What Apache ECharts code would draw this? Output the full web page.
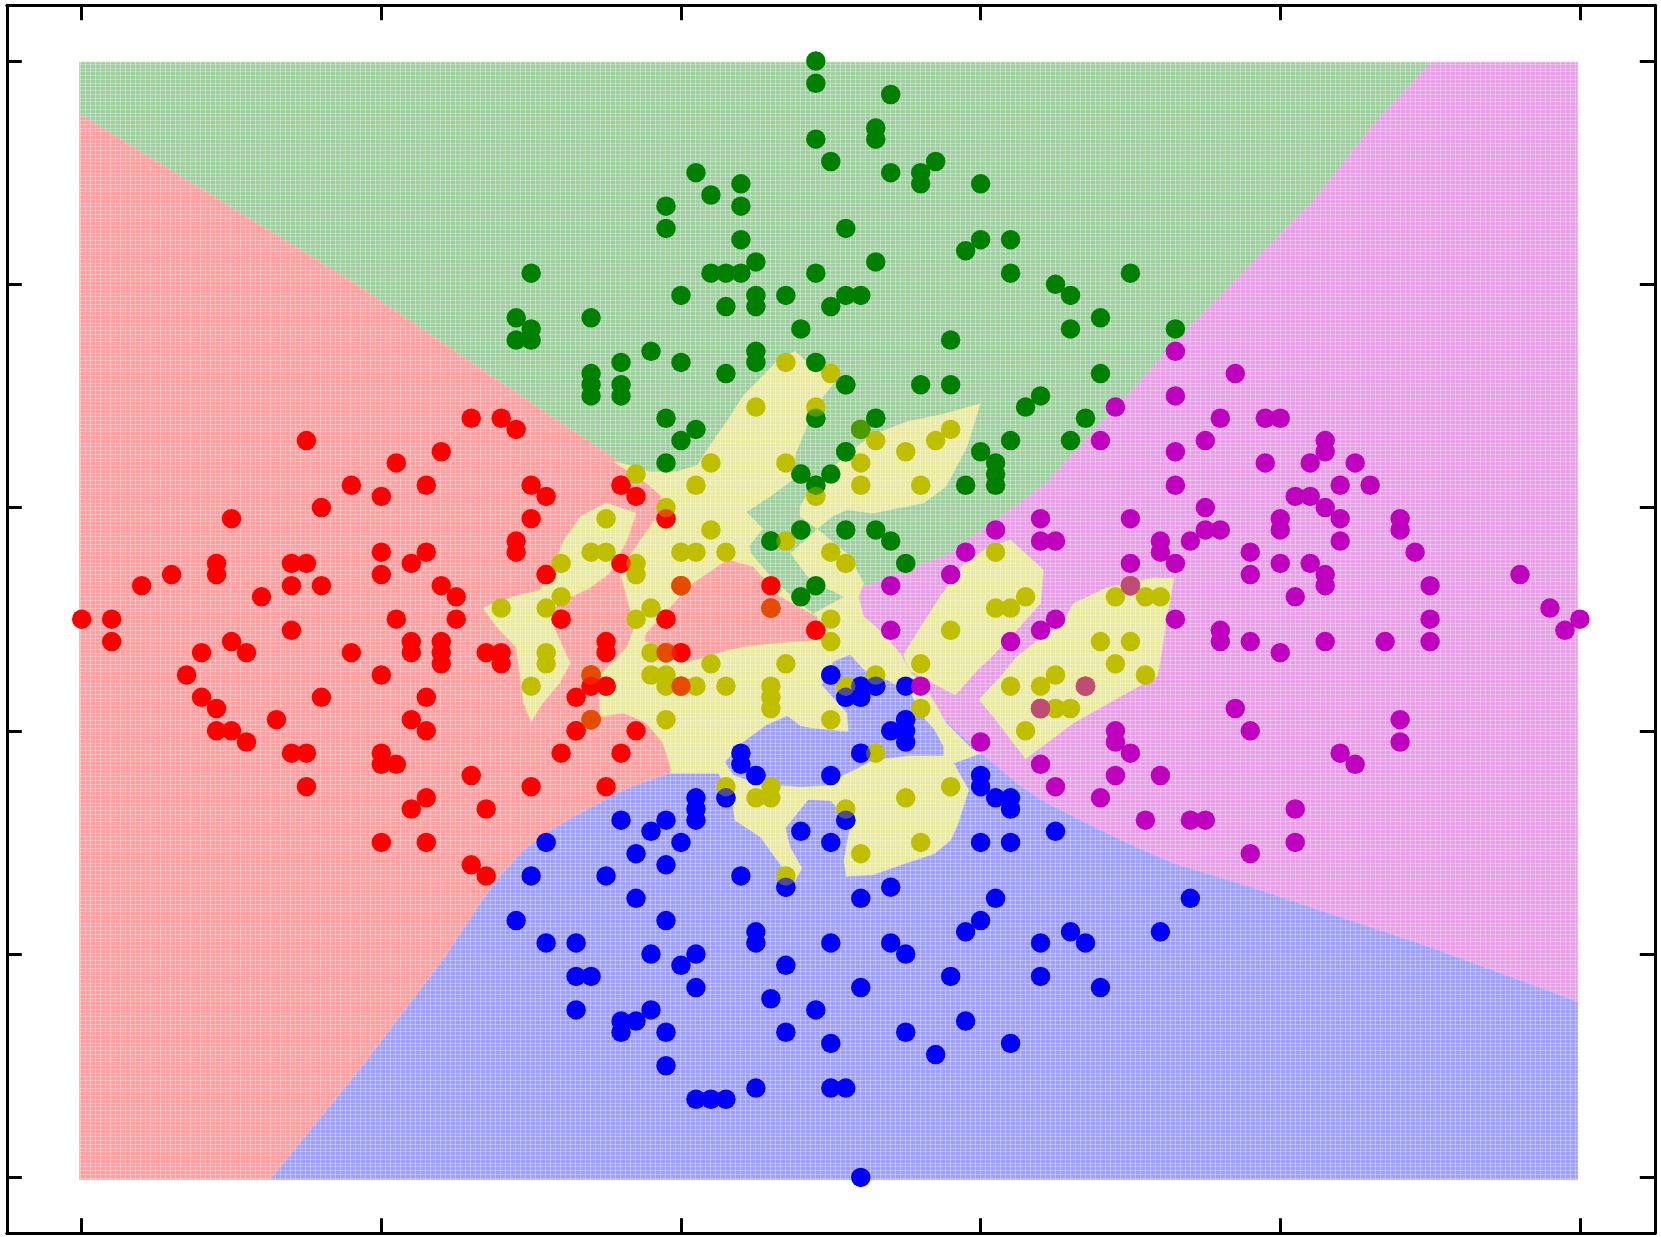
<!DOCTYPE html>
<html>
<head>
<meta charset="utf-8">
<style>html,body{margin:0;padding:0;background:#fff}#c{width:1661px;height:1237px;filter:blur(0.7px)}</style>
<script src="https://cdn.jsdelivr.net/npm/echarts@6/dist/echarts.min.js"></script>
</head>
<body>
<div id="c"></div>
<script>
const tickValues = [-50,-30,-10,10,30,50];

const redPoints = [[-50,0],[-48,0],[-48,-2],[-46,3],[-44,4],[-41,5],[-41,4],[-40,9],[-38,2],[-36,5],[-35,5],[-36,3],[-34,3],[-34,10],[-35,16],[-32,12],[-30,11],[-29,14],[-27,12],[-26,15],[-24,18],[-22,18],[-21,17],[-20,12],[-19,11],[-20,9],[-21,7],[-21,6],[-30,6],[-30,4],[-28,5],[-27,6],[-26,3],[-25,2],[-25,0],[-29,0],[-36,-1],[-40,-2],[-39,-3],[-42,-3],[-43,-5],[-42,-7],[-41,-8],[-41,-10],[-40,-10],[-39,-11],[-37,-9],[-34,-7],[-32,-3],[-30,-5],[-28,-2],[-28,-3],[-26,-3],[-26,-2],[-26,-4],[-23,-3],[-22,-3],[-22,-4],[-27,-7],[-28,-9],[-27,-10],[-36,-12],[-35,-12],[-35,-15],[-30,-12],[-30,-13],[-29,-13],[-24,-14],[-27,-16],[-28,-17],[-23,-17],[-30,-20],[-27,-20],[-24,-22],[-23,-23],[-20,-15],[-15,-15],[-18,-12],[-14,-12],[-17,-10],[-13,-10],[-17,-7],[-16,-6],[-15,-6],[-15,-2],[-15,-3],[-18,0],[-19,4],[-11,0],[-10,3],[-14,12],[-13,11],[-11,9],[-14,5],[-4,3],[-4,1],[-1,-1],[-10,-6],[-10,-3],[-16,-5],[-16,-9],[-11,-3]];

const greenPoints = [[-1,50],[-1,48],[4,47],[3,44],[3,43],[-1,43],[0,41],[-9,40],[-8,38],[-6,39],[-6,37],[-11,37],[-11,35],[4,40],[6,40],[6,39],[7,41],[10,39],[1,35],[-6,34],[9,33],[10,34],[12,34],[3,32],[-1,31],[-5,32],[-8,31],[-7,31],[-6,31],[-20,31],[12,31],[20,31],[15,30],[16,29],[-10,29],[-5,29],[-5,28],[-7,28],[-3,29],[0,28],[1,29],[2,29],[-21,27],[-16,27],[-20,26],[-20,25],[-21,25],[-2,26],[18,27],[16,26],[23,26],[8,25],[-12,24],[-5,24],[-5,23],[-10,23],[-14,23],[-16,22],[-16,21],[-16,20],[-14,21],[-14,20],[-7,22],[18,22],[6,21],[8,21],[14,20],[13,19],[-11,18],[-1,18],[3,18],[17,18],[16,16],[12,16],[-10,16],[-9,17],[-11,14],[1,15],[10,15],[11,14],[11,13],[11,12],[9,12],[-2,13],[0,13],[-1,12],[-2,8],[1,8],[3,8],[4,7],[5,5],[-4,7],[-1,3],[-2,2],[-1,23],[1,21],[2,17]];

const bluePoints = [[-19,-20],[-20,-23],[-21,-27],[-19,-29],[-17,-29],[-17,-32],[-16,-32],[-17,-35],[-15,-23],[-13,-25],[-14,-18],[-12,-19],[-13,-21],[-11,-18],[-10,-20],[-11,-22],[-9,-16],[-9,-17],[-9,-18],[-6,-23],[-11,-27],[-12,-30],[-10,-31],[-9,-30],[-9,-33],[-12,-35],[-13,-36],[-14,-36],[-14,-37],[-11,-37],[-11,-40],[-9,-43],[-8,-43],[-7,-43],[-5,-42],[0,-42],[1,-42],[2,-50],[-5,-28],[-5,-29],[-3,-31],[-4,-34],[-1,-35],[-3,-37],[0,-38],[2,-33],[5,-37],[7,-39],[9,-36],[12,-38],[8,-32],[5,-30],[4,-29],[0,-29],[9,-28],[10,-27],[11,-25],[4,-24],[2,-25],[-3,-24],[14,-29],[14,-32],[16,-28],[17,-29],[18,-33],[22,-28],[24,-25],[12,-20],[10,-20],[15,-19],[12,-16],[12,-17],[11,-16],[10,-14],[10,-15],[1,-18],[0,-20],[-2,-19],[0,-14],[-7,-16],[-5,-14],[-6,-12],[-6,-13],[2,-12],[4,-10],[5,-9],[5,-10],[5,-11],[5,-6],[0,-5],[1,-7],[2,-6],[3,-6],[2,-7]];

const magentaPoints = [[23,24],[27,22],[23,20],[19,19],[26,18],[18,16],[25,16],[23,15],[23,12],[29,18],[30,18],[33,16],[33,15],[32,14],[29,14],[35,14],[34,12],[36,12],[31,11],[32,11],[33,10],[30,9],[34,9],[38,9],[30,8],[38,8],[34,7],[39,6],[28,6],[30,5],[32,5],[28,4],[33,4],[33,3],[40,3],[31,2],[46,4],[48,1],[49,-1],[50,0],[40,0],[40,-2],[26,-1],[26,-2],[28,-2],[33,-2],[37,-2],[30,-3],[27,-8],[28,-10],[38,-9],[38,-11],[34,-12],[35,-13],[31,-17],[31,-20],[28,-21],[24,-18],[25,-18],[21,-18],[22,-14],[20,-12],[19,-10],[19,-11],[19,-14],[18,-16],[15,-15],[14,-13],[10,-11],[25,10],[20,9],[20,5],[20,3],[22,7],[22,6],[23,5],[24,7],[25,8],[26,8],[11,8],[14,9],[14,7],[15,7],[9,6],[8,4],[4,3],[4,-1],[14,-1],[15,0],[12,-2],[6,-6],[23,0],[17,-6],[14,-8]];

const yellowPoints = [[-3,23],[0,22],[-5,19],[-1,19],[2,17],[3,16],[2,14],[2,12],[-8,14],[-3,14],[-13,13],[-9,12],[-1,11],[-11,10],[-15,9],[-8,8],[-16,6],[-15,6],[-10,6],[-9,6],[-7,6],[-3,7],[0,6],[1,5],[-18,5],[-13,5],[-13,4],[-18,2],[-19,1],[-22,1],[-12,1],[-13,0],[-10,3],[-4,1],[0,0],[0,-2],[-19,-3],[-19,-4],[-20,-6],[-16,-5],[-16,-9],[-12,-3],[-11,-3],[-8,-4],[-3,-4],[-12,-5],[-11,-5],[-11,-6],[-10,-6],[-9,-6],[-7,-6],[-4,-6],[-4,-7],[-4,-8],[-11,-9],[0,-9],[1,-6],[3,-5],[3,-12],[-7,-15],[-4,-15],[-5,-16],[-4,-16],[1,-17],[2,-21],[-3,-23],[5,-16],[5,15],[7,16],[8,17],[6,12],[11,6],[8,-1],[11,1],[12,1],[13,2],[19,2],[21,2],[22,2],[18,-2],[20,-2],[20,3],[6,-4],[6,-8],[8,-15],[6,-20],[19,-4],[21,-5],[15,-5],[14,-6],[12,-6],[15,-8],[16,-8],[13,-10],[17,-6],[14,-8]];

const plotArea = [[-50.15,49.9],[49.85,49.9],[49.85,-50.2],[-50.15,-50.2]];
const centre = [1,-1];
const edgeGreenRed = [[-50.15,45.3],[-41.3,38],[-32.1,30.4],[-25.8,24.7],[-20.1,19.5],[-14.5,14.5]];
const edgeRedBlue = [[-10.7,-13.8],[-13.8,-15.3],[-16.3,-17.1],[-18.7,-18.9],[-20.5,-20.7],[-22.3,-23.4],[-23.4,-25.5],[-25.8,-30.4],[-31.4,-40.3],[-37.4,-50.2]];
const edgeGreenMagenta = [[2,2.8],[5.1,4.4],[8,5.9],[10.4,8.3],[12.2,10],[14.4,12.2],[16.6,15.5],[19.1,19],[22.9,24.7],[28.7,32.7],[32.2,37.5],[36.4,44.6],[40.1,49.9]];
const edgeBlueMagenta = [[10,-12],[12.4,-14.7],[14,-16.2],[16.6,-18],[19.8,-20.1],[22.9,-21.9],[28,-24],[40,-29.4],[49.85,-34.3]];

const baseRed = [...edgeGreenRed, centre, ...edgeRedBlue, [-50.15,-50.2]];
const baseGreen = [[-50.15,49.9],[40.1,49.9],...edgeGreenMagenta.slice().reverse(),centre,...edgeGreenRed.slice().reverse()];
const baseMagenta = [centre,...edgeGreenMagenta,[49.85,49.9],...edgeBlueMagenta.slice().reverse()];
const baseBlue = [centre,...edgeBlueMagenta,[49.85,-50.2],[-37.4,-50.2],...edgeRedBlue.slice().reverse()];

const yellowCentre = [[-14.5,14.1],[-13.4,13.8],[-12.1,13.2],[-10.3,13.2],[-8.9,13.8],[-8.1,15.5],[-6.9,17.8],[-5.8,20.1],[-4.9,21.3],[-3.6,23.1],[-2.4,24],[-1.5,22.9],[0.2,21.4],[1.1,5.9],[2.2,3.2],[1.85,2],[2.2,0.2],[2.6,-0.2],[3.5,-1.3],[4.7,-3.2],[5.2,-4.55],[6.4,-6.3],[7.7,-9.3],[9.4,-11.6],[10,-12],[8.2,-12.9],[9.2,-15.3],[8.5,-18.3],[8,-19.8],[6.9,-21],[4.9,-21.9],[2.8,-22.9],[1.3,-23],[-2.4,-23.5],[-3.4,-21.9],[-4.7,-19.5],[-6.4,-18],[-6.6,-15.9],[-7.5,-13.8],[-10.7,-13.8],[-10.7,-13.2],[-11.2,-11.1],[-12.3,-9.3],[-13.8,-8.4],[-15.4,-8.7],[-15.5,-5.1],[-13.6,-2.5],[-13.1,-0.7],[-13.5,1.4],[-14.1,4.4],[-13,6.5],[-11.6,9.2],[-11.3,11],[-12.3,12.2]];
const yellowLeftLobe = [[-23.2,1],[-21.2,2],[-19.4,2.6],[-18.6,4.4],[-17.8,7.1],[-16.7,9.2],[-15,10.4],[-13,9.5],[-13.6,7.1],[-14.8,4.1],[-16.1,2.8],[-18.3,1.4],[-18.5,-0.7],[-17.4,-3.95],[-18.1,-5.7],[-19.4,-7.8],[-20,-9.2],[-20.5,-7.5],[-20.7,-5.4],[-21,-2.5],[-22.3,-0.7]];
const redIsland = [[-12.4,-1.4],[-10.9,0.8],[-9.2,3.2],[-6.9,5.3],[-5.2,4.7],[-3.4,2],[-0.9,0.2],[-1.4,-1.9],[-5.2,-2.3],[-6.9,-2.76],[-8,-3.2],[-9.4,-3.8],[-11.4,-2.3],[-12.4,-2]];
const greenIsland = [[0.2,21.1],[-0.5,19.9],[-1.4,17.8],[-2.3,14.9],[-2.5,12.5],[-4,11],[-5.6,9.6],[-4.5,8.1],[-5.4,6.6],[-5.3,5.9],[-3.8,3.5],[-2,1.4],[-1.2,0.5],[0.85,2],[-1.4,3.5],[-2.7,5.9],[-0.9,8.1],[1.1,5.9],[3,6],[3,15],[2,21.1]];
const blueIslandUpper = [[1.3,-3.2],[2.2,-4.55],[3.7,-5.45],[5.3,-6.6],[6.1,-8.7],[6.9,-9.9],[7.5,-11.4],[7.5,-12.2],[5.3,-12.2],[2.8,-12.6],[1.7,-13.4],[0.6,-14.1],[0,-14.85],[-2,-15],[-4.9,-14.7],[-6.5,-13.95],[-7.05,-12.8],[-5.8,-10.97],[-4.3,-9.5],[-2.9,-8.7],[-2,-9.6],[-1.2,-9.8],[1.2,-10.1],[1.1,-8.4],[-0.6,-5.9],[0.2,-3.8]];
const blueIslandLower = [[-3,-18.7],[-1.5,-16.2],[0,-16.3],[1.3,-18.3],[0.85,-21.6],[1,-23.1],[-2.4,-23.5],[-1.9,-22.3],[-2.7,-20.4]];
const yellowLeafTop = [[9.97,19.3],[7.3,18.3],[5.1,17.7],[2.8,16.5],[1.5,15.2],[-0.3,13.1],[-1.4,11.6],[-2.05,10.1],[-2.05,9.2],[-0.9,8.1],[0.2,9.3],[1.1,9.8],[2.8,9.5],[6.2,10.4],[7.7,11.9],[9.1,15.5]];
const yellowLeafMiddle = [[4.85,-3.2],[6,-0.7],[7.3,2],[8.9,5],[10.4,6.3],[12,7.1],[14.2,4.4],[14,1.4],[12.2,-1.3],[10.5,-3.7],[10,-4.25],[8.3,-6.8],[5.2,-4.55]];
const yellowLeafRight = [[22.9,3.7],[21.5,3.7],[18.4,2.8],[16.2,1.4],[15.4,-0.5],[13.8,-1.9],[12.4,-3.4],[11.3,-5.2],[9.9,-7.2],[11,-9],[13,-12.5],[16.2,-9.3],[19.5,-6.8],[21.8,-5.1],[22,-3.7],[22.3,-1]];

const tint = {red:'#ff9e9e',green:'#9ecf9e',blue:'#9e9eff',magenta:'#e79ee7',yellow:'#e9e9a0'};
const solid = {red:'#ff0000',green:'#008000',blue:'#0000ff',magenta:'#bf00bf',yellow:'#bfbf00'};

const layers = [
  [baseRed,tint.red],[baseGreen,tint.green],[baseMagenta,tint.magenta],[baseBlue,tint.blue],
  [yellowCentre,tint.yellow],[yellowLeftLobe,tint.yellow],
  [redIsland,tint.red],[greenIsland,tint.green],[blueIslandUpper,tint.blue],[blueIslandLower,tint.blue],
  [yellowLeafTop,tint.yellow],[yellowLeafMiddle,tint.yellow],[yellowLeafRight,tint.yellow]
];

function texture(){
  const cv=document.createElement('canvas');cv.width=5;cv.height=15;
  const g=cv.getContext('2d');
  g.fillStyle='rgba(255,255,255,0.3)';
  g.fillRect(0,0,1,15);
  for(let i=0;i<4;i++) g.fillRect(0,Math.round(i*3.75),5,1);
  return cv;
}
const texImage=texture();

function polySeries(){
  return {type:'custom',z:1,silent:true,clip:false,coordinateSystem:'cartesian2d',xAxisIndex:0,yAxisIndex:0,
    data:layers.map((l,i)=>[i]),
    renderItem(params,api){
      const l=layers[params.dataIndex];
      return {type:'polygon',shape:{points:l[0].map(p=>api.coord(p))},style:{fill:l[1],stroke:l[1],lineWidth:0.5}};
    },animation:false};
}
function textureSeries(){
  return {type:'custom',z:2,silent:true,clip:false,xAxisIndex:0,yAxisIndex:0,data:[[0]],
    renderItem(params,api){
      return {type:'polygon',shape:{points:plotArea.map(p=>api.coord(p))},style:{fill:{image:texImage,repeat:'repeat'}}};
    },animation:false};
}
function scatter(data,color,z,opacity){
  return {type:'scatter',data,symbol:'circle',symbolSize:19.5,z,silent:true,animation:false,clip:false,
    xAxisIndex:0,yAxisIndex:0,itemStyle:{color,opacity,borderWidth:0}};
}
function nearYellow(p){
  return yellowPoints.some(q=>{const dx=(p[0]-q[0])*15,dy=(p[1]-q[1])*11.16;return dx*dx+dy*dy<19*19;});
}
const coloured=[[redPoints,solid.red],[greenPoints,solid.green],[bluePoints,solid.blue],[magentaPoints,solid.magenta]];
const series=[polySeries(),textureSeries()];
coloured.forEach(c=>series.push(scatter(c[0],c[1],3,1)));
series.push(scatter(yellowPoints,solid.yellow,4,1));
coloured.forEach(c=>series.push(scatter(c[0].filter(nearYellow),c[1],5,0.6)));

function axis(position){
  return {type:'value',min:-55,max:55,position,gridIndex:0,
    axisLine:{show:true,onZero:false,lineStyle:{color:'#000',width:3}},
    axisTick:{show:true,inside:true,length:15,customValues:tickValues,lineStyle:{color:'#000',width:3}},
    axisLabel:{show:false},splitLine:{show:false},minorTick:{show:false}};
}
const chart=echarts.init(document.getElementById('c'),null,{renderer:'canvas'});
chart.setOption({
  animation:false,backgroundColor:'#fff',
  grid:{left:6.8,top:5.2,width:1648,height:1228,containLabel:false},
  xAxis:[axis('bottom'),axis('top')],
  yAxis:[axis('left'),axis('right')],
  series
});
</script>
</body>
</html>
